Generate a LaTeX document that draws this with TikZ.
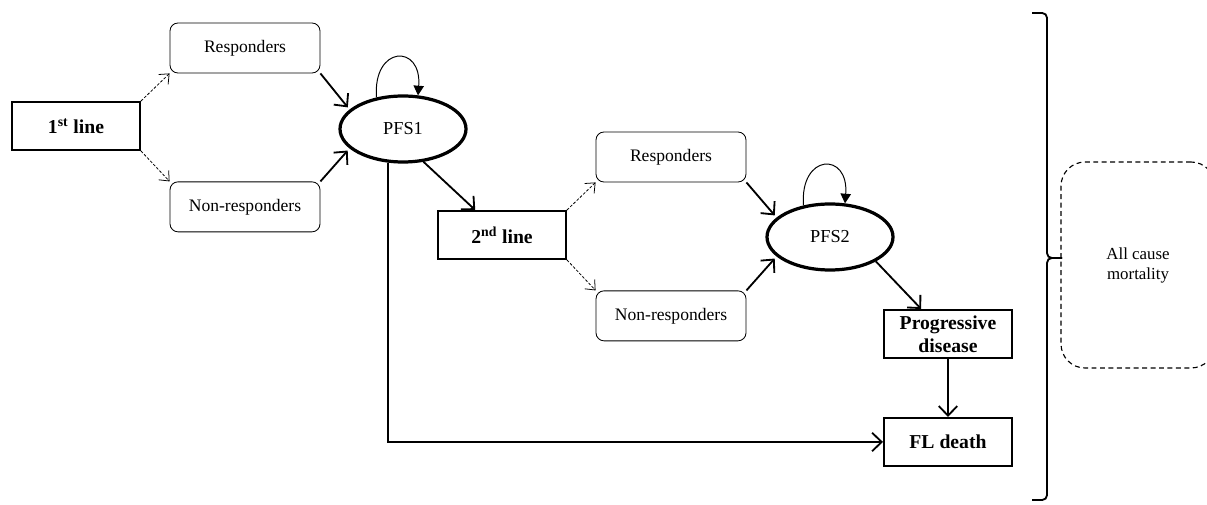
\documentclass[tikz,border=0pt]{standalone}
\usepackage{fontspec}
\setmainfont{Liberation Serif}
\usetikzlibrary{positioning,shapes.geometric,arrows.meta}
\tikzset{line node/.style={draw,line width=1.4pt,minimum width=3.2cm,minimum height=1.2cm,inner sep=1pt,align=center,font=\fontsize{14}{16.5}\selectfont\bfseries},
	resp node/.style={draw,rounded corners=0.2cm,line width=0.6pt,minimum width=3.75cm,minimum height=1.25cm,font=\fontsize{12.5}{14}\selectfont},
	pfs node/.style={ellipse,draw,line width=2.3pt,minimum width=3.15cm,minimum height=1.65cm,inner sep=0pt,font=\fontsize{13}{15}\selectfont},
	main arrow/.style={-{Straight Barb[length=2.4mm,width=4.6mm]},line width=1.3pt},
	dash arrow/.style={-{Straight Barb[length=2mm,width=3.4mm]},dash pattern=on 2pt off 1.2pt,line width=0.55pt},
	loop arrow/.style={-{Triangle[length=2.4mm,width=2.6mm]},line width=0.7pt},
	brace line/.style={line width=1.3pt,rounded corners=0.12cm},
}

\begin{document}
\begin{tikzpicture}
				\useasboundingbox (0,0) rectangle (30.175,-12.625);
				
				\node[line node] (L1) at (1.9,-3.15) {1\textsuperscript{st} line};
				\node[resp node] (R1) at (6.125,-1.2) {Responders};
				\node[resp node] (N1) [below =2.7cm of R1] {Non-responders};
				\node[pfs node] (P1) at (10.075,-3.225) {PFS1};
				
				\node[line node] (L2) at (12.55,-5.875) {2\textsuperscript{nd} line};
				\node[resp node] (R2) at (16.775,-3.925) {Responders};
				\node[resp node] (N2) [below =2.7cm of R2] {Non-responders};
				\node[pfs node] (P2) at (20.75,-5.925) {PFS2};
				
				\node[line node] (PD) at (23.7,-8.35) {Progressive\\disease};
				\node[line node] (FL) [below =1.45cm of PD] {FL death};
				
				\node[draw,dash pattern=on 3.5pt off 2.5pt,line width=0.8pt,rounded corners=0.6cm,minimum width=3.85cm,minimum height=5.15cm,align=center,font=\fontsize{12}{14.2}\selectfont] (AC) at (28.45,-6.625) {All cause\\mortality};
				
				% brace in front of all cause mortality
				\coordinate (BT) at (25.8,-0.325);
				\coordinate (BM) at (26.55,-6.45);
				\coordinate (BB) at (25.8,-12.5);
				\draw[brace line] (BT) -| (26.175,-6.45) -- (BM);
				\draw[brace line] (BM) -- (26.175,-6.45) |- (BB);
				
				\path[dash arrow]
				(L1.north east) edge (R1.south west)
				(L1.south east) edge (N1.north west)
				(L2.north east) edge (R2.south west)
				(L2.south east) edge (N2.north west);
				
				\path[main arrow]
				(R1.south east) edge[shorten >=2pt] (P1.160)
				(N1.north east) edge[shorten >=2pt] (P1.200)
				(P1.-58) edge (L2.137)
				(R2.south east) edge[shorten >=2pt] (P2.160)
				(N2.north east) edge[shorten >=2pt] (P2.200)
				(P2.-28) edge (PD.137)
				(PD) edge (FL);
				\draw[main arrow] (P1.246) |- (FL.west);
				
				\draw[loop arrow] (P1.130) .. controls ([shift={(-0.1,1.3)}]P1.130) and ([shift={(0.1,1.3)}]P1.66) .. (P1.66);
				\draw[loop arrow] (P2.130) .. controls ([shift={(-0.1,1.3)}]P2.130) and ([shift={(0.1,1.3)}]P2.66) .. (P2.66);
				
			\end{tikzpicture}
\end{document}
